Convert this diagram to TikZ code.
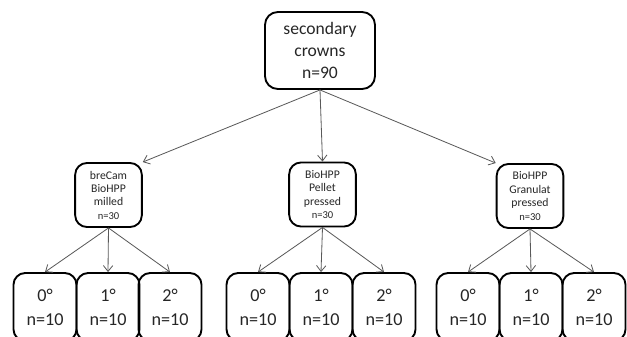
\documentclass[tikz,border=0pt]{standalone}
\usepackage{fontspec}
\setmainfont{Carlito}
\usetikzlibrary{positioning,arrows.meta}

\begin{document}
\begin{tikzpicture}[x=0.03cm, y=-0.03cm,
    box/.style={draw=black, line width=1.6pt, rounded corners=10pt, align=center, inner sep=0pt, text=black!85},
    topbox/.style={box, minimum width=3.3cm, minimum height=2.31cm, font=\fontsize{15}{18.5}\selectfont, rounded corners=11pt},
    midbox/.style={box, minimum width=2.0cm, minimum height=1.92cm, font=\fontsize{10}{11.4}\selectfont},
    leafbox/.style={box, minimum width=1.89cm, minimum height=2.04cm, font=\fontsize{15.5}{20.5}\selectfont},
    link/.style={-{Straight Barb[length=5pt,width=8pt]}, draw=black!65, line width=0.7pt}]
    \useasboundingbox (0,0) rectangle (627,336);
    \clip (0,0) rectangle (627,336);
    % Top box
    \node[topbox] (crowns) at (320,50.5) {secondary\\crowns\\n=90};
    % Middle boxes
    \node[midbox] (milled) at (108.5,195) {breCam\\BioHPP\\milled\\{\fontsize{9}{11.4}\selectfont n=30}};
    \node[midbox] (pellet) at (322.5,194.5) {BioHPP\\Pellet\\pressed\\{\fontsize{9}{11.4}\selectfont n=30}};
    \node[midbox] (granulat) at (530,196) {BioHPP\\Granulat\\pressed\\{\fontsize{9}{11.4}\selectfont n=30}};
    % Top arrows
    \draw[link] (crowns.south) -- (milled.north east);
    \draw[link] (crowns.south) -- (pellet.north);
    \draw[link] (crowns.south) -- (granulat.north west);
    % Bottom boxes, left
    \node[leafbox] (milledA) at (45,307) {0°\\n=10};
    \node[leafbox] (milledB) at (108,307) {1°\\n=10};
    \node[leafbox] (milledC) at (170,307) {2°\\n=10};
    \draw[link] (milled.south) -- (milledA.north);
    \draw[link] (milled.south) -- (milledB.north);
    \draw[link] (milled.south) -- (milledC.north);
    % Bottom boxes, middle
    \node[leafbox] (pelletA) at (258,307) {0°\\n=10};
    \node[leafbox] (pelletB) at (321,307) {1°\\n=10};
    \node[leafbox] (pelletC) at (384,307) {2°\\n=10};
    \draw[link] (pellet.south) -- (pelletA.north);
    \draw[link] (pellet.south) -- (pelletB.north);
    \draw[link] (pellet.south) -- (pelletC.north);
    % Bottom boxes, right
    \node[leafbox] (granulatA) at (468,307) {0°\\n=10};
    \node[leafbox] (granulatB) at (531,307) {1°\\n=10};
    \node[leafbox] (granulatC) at (594,307) {2°\\n=10};
    \draw[link] (granulat.south) -- (granulatA.north);
    \draw[link] (granulat.south) -- (granulatB.north);
    \draw[link] (granulat.south) -- (granulatC.north);
\end{tikzpicture}
\end{document}
